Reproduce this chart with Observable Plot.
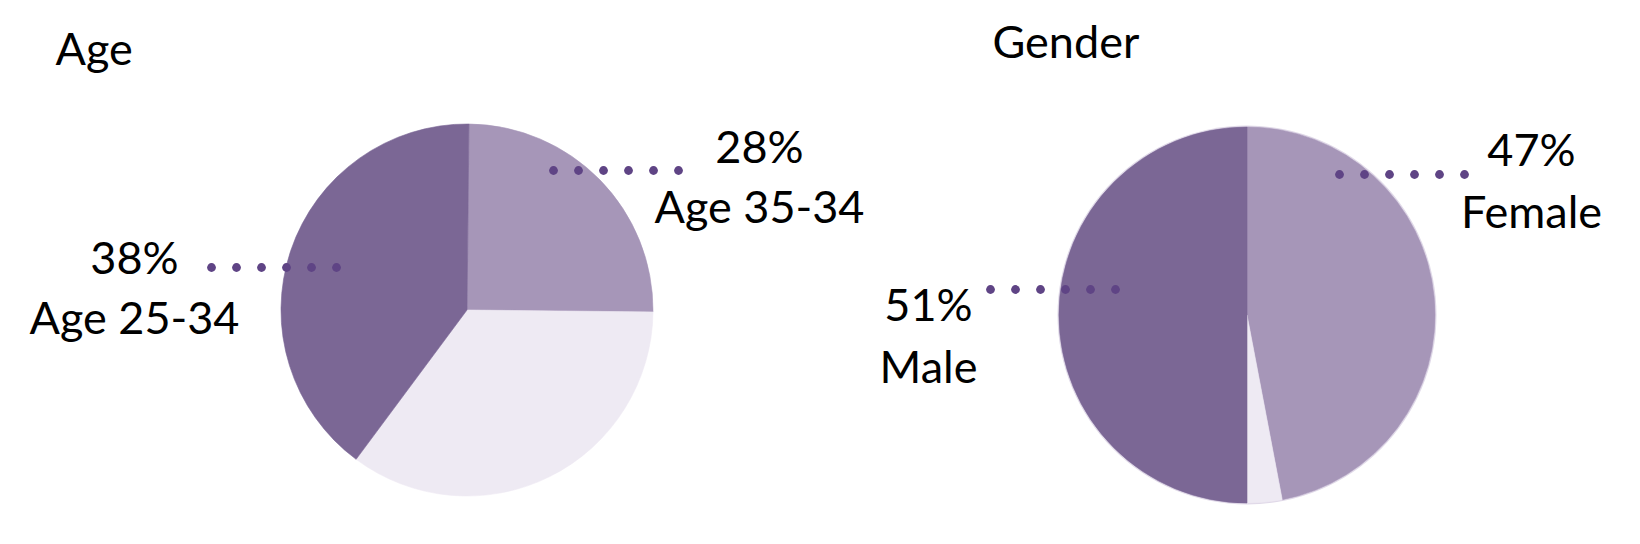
<!DOCTYPE html>
<html>
<head>
<meta charset="utf-8">
<script src="https://cdn.jsdelivr.net/npm/d3@7"></script>
<script src="https://cdn.jsdelivr.net/npm/@observablehq/plot@0.6"></script>
<style>
  html, body { margin: 0; padding: 0; background: #ffffff; }
  #chart { width: 1640px; height: 544px; overflow: hidden; }
</style>
</head>
<body>
<div id="chart"></div>
<script>
// ---- Data ----
const chartTitles = ["Age", "Gender"];

const ageCategories = ["Age 35-34", "Other ages", "Age 25-34"];
const ageValues = [25, 35, 40];            // slice sizes as drawn
const ageLabels = ["28%", "", "38%"];      // callout texts

const genderCategories = ["Female", "Other", "Male"];
const genderValues = [47, 3, 50];          // slice sizes as drawn
const genderLabels = ["47%", "", "51%"];   // callout texts

// ---- Styles / layout ----
const palette = { dark: "#7B6795", medium: "#A696B8", light: "#EEEAF3", dot: "#5F4485", text: "#000000", halo: "#E0D9E8" };
const sliceColors = [palette.medium, palette.light, palette.dark];

const layout = {
  width: 1640, height: 544,
  font: "Lato, 'Open Sans', sans-serif", fontSize: 45,
  pies: [
    { cx: 467, cy: 310, r: 186, rot: 0.6, halo: 0 },
    { cx: 1247, cy: 315, r: 188, rot: 0, halo: 1.5 }
  ],
  titles: [ { x: 55, y: 64 }, { x: 992, y: 57 } ],
  labels: [
    [ { i: 0, x: 759, y1: 162, y2: 222 }, { i: 2, x: 134, y1: 273, y2: 333 } ],
    [ { i: 0, x: 1531, y1: 165, y2: 227 }, { i: 2, x: 928, y1: 320, y2: 382 } ]
  ],
  leaders: [
    [ { i: 0, x0: 553, y: 170 }, { i: 2, x0: 211, y: 267 } ],
    [ { i: 0, x0: 1339, y: 174 }, { i: 2, x0: 990, y: 289 } ]
  ],
  dotCount: 6, dotStep: 25, dotR: 4.4
};

const charts = [
  { title: chartTitles[0], cats: ageCategories, values: ageValues, labels: ageLabels },
  { title: chartTitles[1], cats: genderCategories, values: genderValues, labels: genderLabels }
];

// ---- Derived tables ----
const titleRows = charts.map((c, k) => ({ text: c.title, x: layout.titles[k].x, y: layout.titles[k].y }));

const labelRows = [];
charts.forEach((c, k) => {
  layout.labels[k].forEach(l => {
    labelRows.push({ text: c.labels[l.i], x: l.x, y: l.y1 });
    labelRows.push({ text: c.cats[l.i], x: l.x, y: l.y2 });
  });
});

const dotRows = [];
charts.forEach((c, k) => {
  layout.leaders[k].forEach(ld => {
    for (let j = 0; j < layout.dotCount; j++) {
      dotRows.push({ x: ld.x0 + j * layout.dotStep, y: ld.y, cat: c.cats[ld.i] });
    }
  });
});

// ---- Pie render mark ----
function pieMark(chart, p) {
  return (index, scales) => {
    const sx = scales && typeof scales.x === "function" ? scales.x : (v) => v;
    const sy = scales && typeof scales.y === "function" ? scales.y : (v) => v;
    const rPx = Math.abs(sx(p.r) - sx(0));
    const rot = p.rot * Math.PI / 180;
    const g = d3.create("svg:g")
      .attr("transform", `translate(${sx(p.cx)},${sy(p.cy)})`);
    if (p.halo) {
      g.append("circle").attr("r", rPx + p.halo).attr("fill", palette.halo);
    }
    const arcs = d3.pie().sort(null).startAngle(rot).endAngle(rot + 2 * Math.PI)(chart.values);
    const arc = d3.arc().innerRadius(0).outerRadius(rPx);
    g.selectAll("path.slice")
      .data(arcs)
      .join("path")
      .attr("class", "slice")
      .attr("d", arc)
      .attr("fill", (d, i) => sliceColors[i])
      .attr("stroke", (d, i) => sliceColors[i])
      .attr("stroke-width", 0.6)
      .append("title")
      .text((d, i) => `${chart.cats[i]}: ${chart.values[i]}`);
    return g.node();
  };
}

const plot = Plot.plot({
  width: layout.width,
  height: layout.height,
  margin: 0,
  x: { domain: [0, layout.width], range: [0, layout.width], axis: null },
  y: { domain: [0, layout.height], range: [0, layout.height], axis: null },
  style: { fontFamily: layout.font, background: "#ffffff", overflow: "visible" },
  marks: [
    pieMark(charts[0], layout.pies[0]),
    pieMark(charts[1], layout.pies[1]),
    Plot.dot(dotRows, { x: "x", y: "y", r: layout.dotR, fill: palette.dot, stroke: "none" }),
    Plot.text(titleRows, { x: "x", y: "y", text: "text", textAnchor: "start", lineAnchor: "bottom", fontSize: layout.fontSize, fill: palette.text }),
    Plot.text(labelRows, { x: "x", y: "y", text: "text", textAnchor: "middle", lineAnchor: "bottom", fontSize: layout.fontSize, fill: palette.text })
  ]
});

document.getElementById("chart").appendChild(plot);
</script>
</body>
</html>
